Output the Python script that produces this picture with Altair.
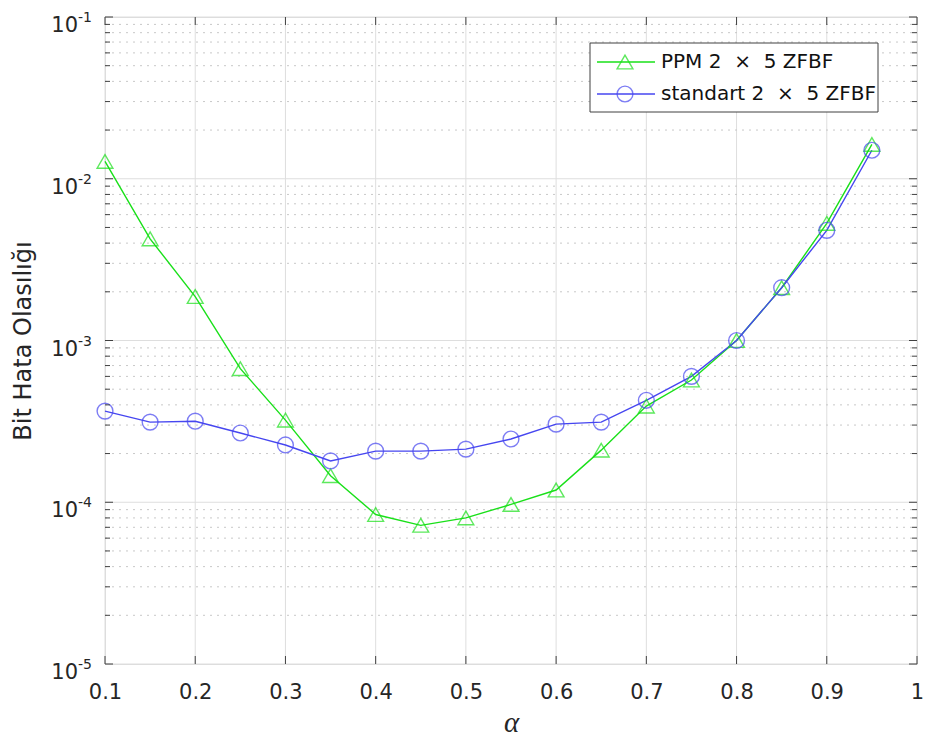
import altair as alt
import pandas as pd

# ---- data ----
alpha = [0.10, 0.15, 0.20, 0.25, 0.30, 0.35, 0.40, 0.45, 0.50,
         0.55, 0.60, 0.65, 0.70, 0.75, 0.80, 0.85, 0.90, 0.95]
ppm = [1.28e-2, 4.25e-3, 1.87e-3, 6.7e-4, 3.22e-4, 1.46e-4, 8.4e-5, 7.2e-5, 8.0e-5,
       9.7e-5, 1.19e-4, 2.1e-4, 3.93e-4, 5.7e-4, 1.0e-3, 2.12e-3, 5.3e-3, 1.63e-2]
standart = [3.66e-4, 3.13e-4, 3.17e-4, 2.68e-4, 2.26e-4, 1.8e-4, 2.07e-4, 2.07e-4, 2.13e-4,
            2.46e-4, 3.04e-4, 3.13e-4, 4.27e-4, 6.0e-4, 1.0e-3, 2.12e-3, 4.8e-3, 1.50e-2]
series = ["PPM 2\u00a0\u00a0\u00d7\u00a0\u00a05 ZFBF", "standart 2\u00a0\u00a0\u00d7\u00a0\u00a05 ZFBF"]
x_ticks = [0.1, 0.2, 0.3, 0.4, 0.5, 0.6, 0.7, 0.8, 0.9, 1.0]
decade_exps = [-5, -4, -3, -2, -1]
minor_mult = [2, 3, 4, 5, 6, 7, 8, 9]

W, H = 812, 647
GREEN = "#19e019"
BLUE = "#4646f0"
FONT = "DejaVu Sans"
TXT = "#262626"

df = pd.DataFrame({
    "alpha": alpha * 2,
    "ber": ppm + standart,
    "series": [series[0]] * len(alpha) + [series[1]] * len(alpha),
})
majors = pd.DataFrame({"v": [10.0 ** e for e in decade_exps],
                       "exp": [str(e) for e in decade_exps]})
minors = pd.DataFrame({"v": [m * 10.0 ** e for e in decade_exps[:-1] for m in minor_mult]})
xt = pd.DataFrame({"x": x_ticks})

xscale = alt.Scale(domain=[0.1, 1.0], nice=False, zero=False)
yscale = alt.Scale(type="log", domain=[1e-5, 1e-1], nice=False)

xgrid = alt.Chart(xt).mark_rule(color="#dedede", strokeWidth=1).encode(
    x=alt.X("x:Q", scale=xscale,
            axis=alt.Axis(values=x_ticks, format=".1~f", title="\u03b1", grid=False,
                          domain=False, ticks=False, labelFont=FONT, labelFontSize=21,
                          labelColor=TXT, labelPadding=17, labelFlush=False,
                          titleFont="Liberation Serif", titleFontStyle="italic",
                          titleFontWeight="normal", titleFontSize=29,
                          titleColor=TXT, titlePadding=6)),
    y=alt.value(0), y2=alt.value(H))

ymin_grid = alt.Chart(minors).mark_rule(color="#c8c8c8", strokeWidth=1,
                                        strokeDash=[2, 5]).encode(
    y=alt.Y("v:Q", scale=yscale,
            axis=alt.Axis(labels=False, ticks=False, domain=False, grid=False,
                          title="Bit Hata Olas\u0131l\u0131\u011f\u0131",
                          titleFont=FONT, titleFontSize=24, titleFontWeight="normal",
                          titleColor=TXT, titlePadding=70)),
    x=alt.value(0), x2=alt.value(W))

ymaj_grid = alt.Chart(majors).mark_rule(color="#dedede", strokeWidth=1).encode(
    y=alt.Y("v:Q", scale=yscale), x=alt.value(0), x2=alt.value(W))

lines = alt.Chart(df).mark_line(strokeWidth=1.4).encode(
    x=alt.X("alpha:Q", scale=xscale),
    y=alt.Y("ber:Q", scale=yscale),
    color=alt.Color("series:N", scale=alt.Scale(domain=series, range=[GREEN, BLUE]),
                    legend=None))

points = alt.Chart(df).mark_point(filled=False, size=250, strokeWidth=1.4).encode(
    x=alt.X("alpha:Q", scale=xscale),
    y=alt.Y("ber:Q", scale=yscale),
    color=alt.Color("series:N", scale=alt.Scale(domain=series, range=[GREEN, BLUE]),
                    legend=None),
    shape=alt.Shape("series:N", scale=alt.Scale(domain=series,
                                                range=["triangle-up", "circle"]),
                    legend=None))

tick_col = "#404040"
xt_bot = alt.Chart(xt).mark_rule(color=tick_col).encode(
    x=alt.X("x:Q", scale=xscale), y=alt.value(H), y2=alt.value(H - 8))
xt_top = alt.Chart(xt).mark_rule(color=tick_col).encode(
    x=alt.X("x:Q", scale=xscale), y=alt.value(0), y2=alt.value(8))
yt_l = alt.Chart(majors).mark_rule(color=tick_col).encode(
    y=alt.Y("v:Q", scale=yscale), x=alt.value(0), x2=alt.value(8))
yt_r = alt.Chart(majors).mark_rule(color=tick_col).encode(
    y=alt.Y("v:Q", scale=yscale), x=alt.value(W), x2=alt.value(W - 8))
ym_l = alt.Chart(minors).mark_rule(color=tick_col).encode(
    y=alt.Y("v:Q", scale=yscale), x=alt.value(0), x2=alt.value(5))
ym_r = alt.Chart(minors).mark_rule(color=tick_col).encode(
    y=alt.Y("v:Q", scale=yscale), x=alt.value(W), x2=alt.value(W - 5))

ylab_base = alt.Chart(majors).mark_text(font=FONT, fontSize=21, color=TXT,
                                        align="right", baseline="alphabetic", dy=15).encode(
    y=alt.Y("v:Q", scale=yscale), x=alt.value(-27), text=alt.value("10"))
ylab_exp = alt.Chart(majors).mark_text(font=FONT, fontSize=14, color=TXT,
                                       align="left", baseline="alphabetic", dy=5).encode(
    y=alt.Y("v:Q", scale=yscale), x=alt.value(-27), text="exp:N")

# ---- manual MATLAB-like legend ----
LX0, LX1, LY0, LY1 = 485, 773, 26, 95
leg_box = alt.Chart(pd.DataFrame({"a": [0]})).mark_rect(
    fill="white", stroke="#404040", strokeWidth=1).encode(
    x=alt.value(LX0), x2=alt.value(LX1), y=alt.value(LY0), y2=alt.value(LY1))
row_y = [45, 77]
leg_layers = [leg_box]
for i, s in enumerate(series):
    col = [GREEN, BLUE][i]
    shp = ["triangle-up", "circle"][i]
    one = pd.DataFrame({"series": [s]})
    leg_layers.append(alt.Chart(one).mark_rule(color=col, strokeWidth=1.4).encode(
        x=alt.value(492), x2=alt.value(550), y=alt.value(row_y[i])))
    leg_layers.append(alt.Chart(one).mark_point(filled=False, size=250, strokeWidth=1.4,
                                                color=col, shape=shp).encode(
        x=alt.value(520), y=alt.value(row_y[i])))
    leg_layers.append(alt.Chart(one).mark_text(font=FONT, fontSize=20, color="#111111",
                                               align="left", baseline="middle").encode(
        x=alt.value(556), y=alt.value(row_y[i]), text="series:N"))

chart = alt.layer(
    xgrid, ymin_grid, ymaj_grid, lines, points,
    xt_bot, xt_top, yt_l, yt_r, ym_l, ym_r, ylab_base, ylab_exp,
    *leg_layers
).properties(
    width=W, height=H,
    padding={"left": 97, "top": 9, "right": 6, "bottom": 74},
    autosize="none",
).configure_view(stroke="#404040", strokeWidth=1).configure(background="white")

chart.save("out.html", embed_options={"renderer": "svg", "actions": False})
